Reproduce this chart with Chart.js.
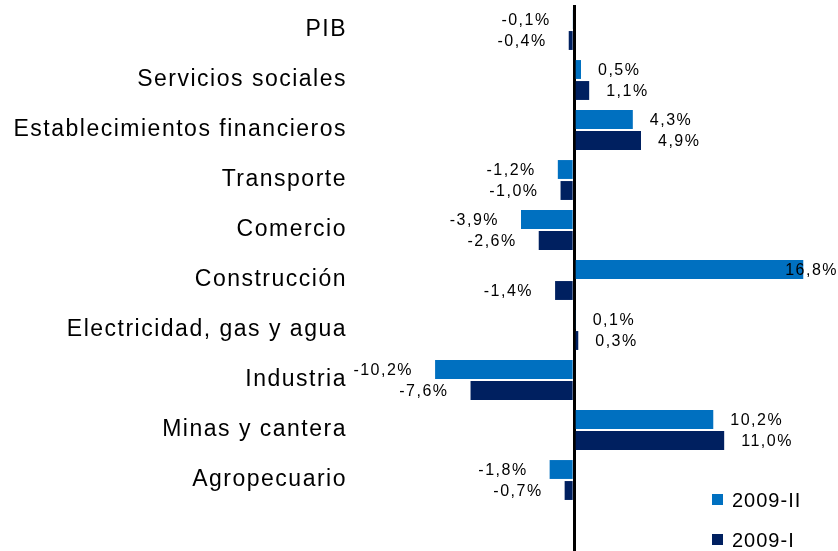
<!DOCTYPE html>
<html>
<head>
<meta charset="utf-8">
<script src="https://cdn.jsdelivr.net/npm/chart.js@4"></script>
<style>
  html, body { margin: 0; padding: 0; background: #fff; overflow: hidden; }
  #wrap { width: 838px; height: 556px; }
</style>
</head>
<body>
<div id="wrap"><canvas id="sectorChart" width="838" height="556"></canvas></div>
<script>
// categorias de arriba a abajo (la ultima vacia deja el espacio de la leyenda)
const sectores = ['PIB', 'Servicios sociales', 'Establecimientos financieros', 'Transporte', 'Comercio',
    'Construcción', 'Electricidad, gas y agua', 'Industria', 'Minas y cantera', 'Agropecuario', ''];
const serie2009II = [-0.1, 0.5, 4.3, -1.2, -3.9, 16.8, 0.1, -10.2, 10.2, -1.8, null];
const serie2009I = [-0.4, 1.1, 4.9, -1.0, -2.6, -1.4, 0.3, -7.6, 11.0, -0.7, null];
const nombresSeries = ['2009-II', '2009-I'];
const colores = ['#0070C0', '#002060'];

const fmt = v => v.toFixed(1).replace('.', ',') + '%';

// etiquetas de valor al final de cada barra
const valueLabels = {
    id: 'valueLabels',
    afterDatasetsDraw(chart) {
        const ctx = chart.ctx;
        const area = chart.chartArea;
        ctx.save();
        ctx.font = '16px "Liberation Sans", Arial, sans-serif';
        ctx.letterSpacing = '1.5px';
        ctx.fillStyle = '#000';
        ctx.textBaseline = 'middle';
        chart.data.datasets.forEach((ds, i) => {
            chart.getDatasetMeta(i).data.forEach((bar, j) => {
                const v = ds.data[j];
                if (v === null) return;
                const txt = fmt(v);
                const w = ctx.measureText(txt).width;
                let x;
                if (v >= 0) {
                    x = Math.max(bar.x, bar.base) + 17;
                    x = Math.min(x, area.right - w + 2);
                } else {
                    x = Math.min(bar.x, bar.base) - 22 - w;
                }
                ctx.textAlign = 'left';
                ctx.fillText(txt, x, bar.y + 1);
            });
        });
        ctx.restore();
    }
};

// leyenda dentro del area del grafico, abajo a la derecha
const legendBox = {
    id: 'legendBox',
    afterDraw(chart) {
        const ctx = chart.ctx;
        const area = chart.chartArea;
        ctx.save();
        ctx.font = '20px "Liberation Sans", Arial, sans-serif';
        ctx.letterSpacing = '1px';
        ctx.textBaseline = 'middle';
        ctx.textAlign = 'left';
        const x0 = area.right - 124;
        [area.bottom - 55, area.bottom - 15].forEach((y, i) => {
            ctx.fillStyle = colores[i];
            ctx.fillRect(x0, y - 6, 11, 11);
            ctx.fillStyle = '#000';
            ctx.fillText(nombresSeries[i], x0 + 20, y + 1);
        });
        ctx.restore();
    }
};

const spacing = {
    id: 'spacing',
    beforeDraw(chart) {
        chart.ctx.letterSpacing = '1.5px';
    }
};

new Chart(document.getElementById('sectorChart').getContext('2d'), {
    type: 'bar',
    data: {
        labels: sectores,
        datasets: [{
            label: nombresSeries[0],
            data: serie2009II,
            backgroundColor: colores[0],
            categoryPercentage: 0.84,
            barPercentage: 0.9
        }, {
            label: nombresSeries[1],
            data: serie2009I,
            backgroundColor: colores[1],
            categoryPercentage: 0.84,
            barPercentage: 0.9
        }]
    },
    options: {
        indexAxis: 'y',
        responsive: false,
        animation: false,
        devicePixelRatio: 1,
        layout: { padding: { top: 5, right: 2, bottom: 1, left: 0 } },
        plugins: {
            legend: { display: false },
            tooltip: { enabled: false }
        },
        scales: {
            x: {
                min: -16,
                max: 19.2,
                afterBuildTicks: scale => { scale.ticks = [{ value: 0 }]; },
                afterFit: scale => {
                    scale.height = 0;
                    scale.paddingLeft = 0; scale.paddingRight = 0;
                    scale.paddingTop = 0; scale.paddingBottom = 0;
                },
                ticks: { display: false },
                border: { display: false },
                grid: { color: '#000', lineWidth: 3, drawTicks: false }
            },
            y: {
                afterFit: scale => {
                    scale.width = 356;
                    scale.paddingTop = 0; scale.paddingBottom = 0;
                },
                border: { display: false },
                grid: { display: false },
                ticks: {
                    color: '#000',
                    padding: 1,
                    font: { family: '"Liberation Sans", Arial, sans-serif', size: 23 }
                }
            }
        }
    },
    plugins: [spacing, valueLabels, legendBox]
});
</script>
</body>
</html>
